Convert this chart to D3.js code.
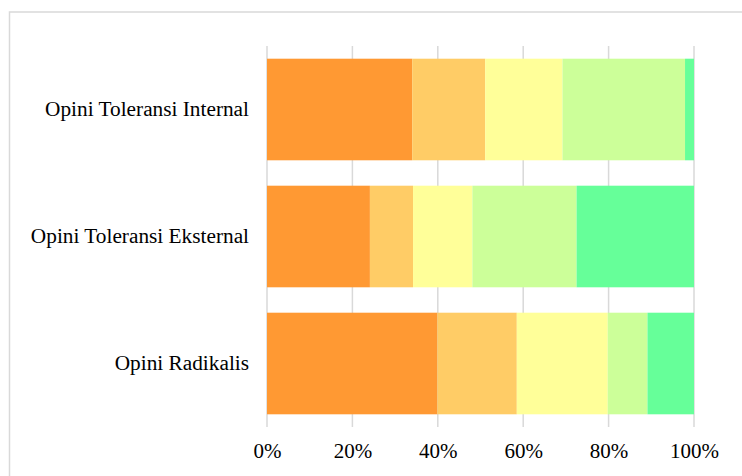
<!DOCTYPE html>
<html>
<head>
<meta charset="utf-8">
<script src="https://cdn.jsdelivr.net/npm/d3@7"></script>
<style>
  html, body { margin: 0; padding: 0; background: #fff; }
  svg { display: block; }
</style>
</head>
<body>
<svg id="chart" width="742" height="476"></svg>
<script>
// Survey opinion categories (top to bottom)
const categories = ["Opini Toleransi Internal", "Opini Toleransi Eksternal", "Opini Radikalis"];
// Response levels, stacked left to right
const levels = ["s1", "s2", "s3", "s4", "s5"];
// Percentage share of each level per category
const s1 = [34.0, 24.1, 39.9];
const s2 = [17.1, 10.1, 18.6];
const s3 = [18.1, 13.9, 21.3];
const s4 = [28.7, 24.4, 9.3];
const s5 = [2.1, 27.5, 10.9];
const levelColors = ["#FF9933", "#FFCC66", "#FFFF99", "#CCFF99", "#66FF99"];
const tickValues = [0, 20, 40, 60, 80, 100];

const FONT = "'Liberation Serif', 'Times New Roman', Times, 'Nimbus Roman', 'Nimbus Roman No9 L', 'FreeSerif', 'Noto Serif', 'DejaVu Serif', Georgia, serif";

const svg = d3.select("#chart");
const W = 742, H = 476;
const plot = { left: 267, right: 694, top: 46, bottom: 427 };

// outer chart frame
svg.append("rect")
  .attr("x", 9.5).attr("y", 12)
  .attr("width", W + 20).attr("height", H + 20)
  .attr("fill", "none").attr("stroke", "#d9d9d9").attr("stroke-width", 1.5);

const rows = categories.map((c, i) => {
  const r = { category: c };
  const seriesArr = [s1, s2, s3, s4, s5];
  levels.forEach((k, j) => { r[k] = seriesArr[j][i]; });
  return r;
});
// normalise each row to 100%
rows.forEach(r => {
  const tot = d3.sum(levels, k => r[k]);
  levels.forEach(k => { r[k] = r[k] / tot * 100; });
});

const x = d3.scaleLinear().domain([0, 100]).range([plot.left, plot.right]);
const y = d3.scaleBand().domain(categories).range([plot.top, plot.bottom])
  .paddingInner(0.2).paddingOuter(0.1);
const color = d3.scaleOrdinal().domain(levels).range(levelColors);

// vertical gridlines
svg.append("g")
  .selectAll("line")
  .data(tickValues)
  .join("line")
  .attr("x1", d => x(d)).attr("x2", d => x(d))
  .attr("y1", plot.top).attr("y2", plot.bottom)
  .attr("stroke", "#d9d9d9").attr("stroke-width", 1.5);

const stacked = d3.stack().keys(levels)(rows);

svg.append("g")
  .selectAll("g")
  .data(stacked)
  .join("g")
  .attr("fill", d => color(d.key))
  .selectAll("rect")
  .data(d => d)
  .join("rect")
  .attr("x", d => x(d[0]))
  .attr("width", d => x(d[1]) - x(d[0]))
  .attr("y", d => y(d.data.category))
  .attr("height", y.bandwidth());

// category labels
const yAxis = d3.axisLeft(y).tickSize(0).tickPadding(18);
const gy = svg.append("g").attr("transform", `translate(${plot.left},0)`).call(yAxis);
gy.select(".domain").remove();
gy.attr("font-family", null).attr("font-size", null);
gy.selectAll("text")
  .style("font-family", FONT)
  .style("font-size", "21.3px")
  .style("fill", "#000");

// percentage axis
const xAxis = d3.axisBottom(x).tickValues(tickValues).tickSize(0).tickPadding(0)
  .tickFormat(d => d + "%");
const gx = svg.append("g").attr("transform", `translate(0,${plot.bottom})`).call(xAxis);
gx.select(".domain").remove();
gx.attr("font-family", null).attr("font-size", null);
gx.selectAll("text")
  .attr("dy", null)
  .attr("y", 31)
  .style("font-family", FONT)
  .style("font-size", "21px")
  .style("fill", "#000");
</script>
</body>
</html>
